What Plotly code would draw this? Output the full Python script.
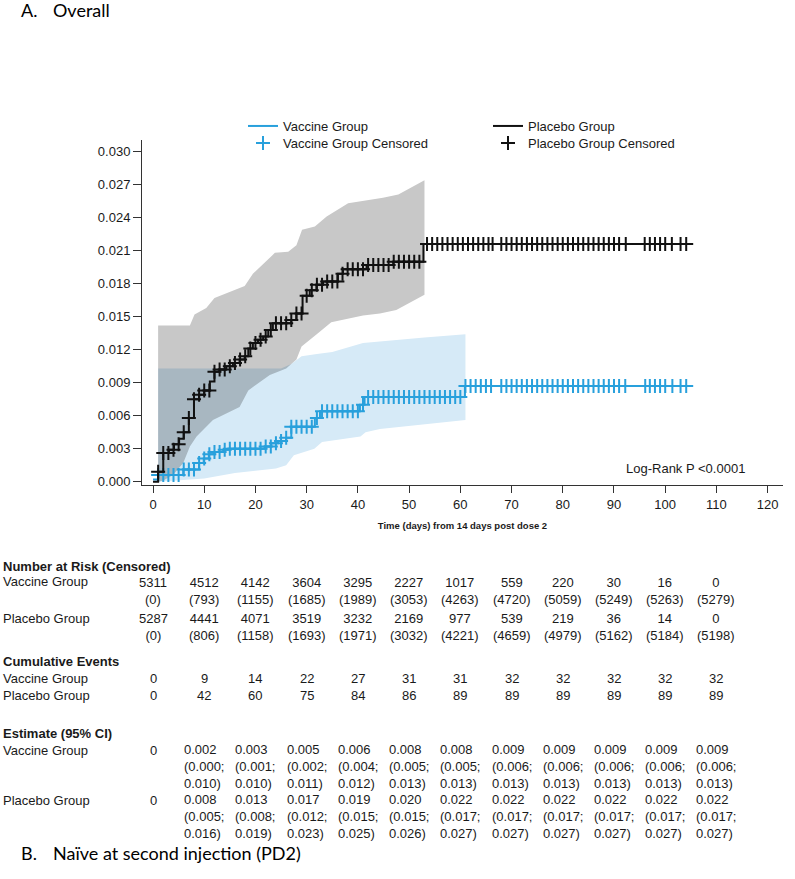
import plotly.graph_objects as go

# ---------------- data ----------------
# Kaplan-Meier cumulative incidence (step points: day, value)
plc_step_days = [0, 1, 2, 3.1, 4.1, 5.1, 6, 7, 8, 9, 10, 11.1, 12, 13, 14.3, 15.6, 16.9, 17.9,
                 18.6, 19.5, 20.5, 21.5, 22.5, 23.4, 27, 28, 29.2, 30.6, 31.9, 33.2, 36.1, 37.1,
                 41.7, 46.9, 52.8, 105.1]
plc_step_vals = [0.0, 0.0009, 0.0026, 0.0029, 0.0034, 0.0039, 0.0045, 0.0058, 0.0075, 0.0079,
                 0.0083, 0.0091, 0.0100, 0.0102, 0.0105, 0.0108, 0.0111, 0.0114, 0.0121, 0.0126,
                 0.0129, 0.0132, 0.0138, 0.0144, 0.0147, 0.0153, 0.0169, 0.0174, 0.0179, 0.0182,
                 0.0189, 0.0193, 0.0197, 0.0200, 0.0216, 0.0216]

vac_step_days = [0, 1, 5.9, 9, 9.9, 10.9, 12, 13.7, 14.6, 21.8, 23.1, 24.4, 26, 27, 31.6, 32.6,
                 40.4, 41.3, 60.9, 105.1]
vac_step_vals = [0.0002, 0.0006, 0.0011, 0.0017, 0.0021, 0.0025, 0.0027, 0.0029, 0.0030, 0.0032,
                 0.0035, 0.0037, 0.0040, 0.0050, 0.0058, 0.0064, 0.0070, 0.0077, 0.0087, 0.0087]

# censoring times (days)
plc_cens_days = [1, 2, 3, 4, 5, 6, 7, 8, 9, 10, 11, 12, 13, 14, 15, 16, 17, 18, 19, 20, 21, 22,
                 23, 24, 25, 26, 27, 28, 29, 30, 31, 32, 33, 34, 35, 36, 37, 38, 39, 40, 41, 42,
                 43, 44, 45, 46, 47, 48, 49, 50, 51, 52, 53.5, 54.5, 55.5, 56.5, 57.5, 58.5, 59.5,
                 60.5, 61.5, 62.5, 63.5, 64.5, 65.5, 66.3, 68, 69, 70, 71, 72, 73, 74, 75, 76, 77,
                 78, 79, 80, 81, 82, 83, 84, 85, 86, 87, 88, 89, 90, 91, 92.3, 96, 97, 98, 99,
                 100, 101.3, 103, 104.1]
vac_cens_days = [1, 2, 3, 4, 5, 6, 7, 8, 9, 10, 11, 12, 13, 14, 15, 16, 17, 18, 19, 20, 21, 22,
                 23, 24, 25, 26, 27, 28, 29, 30, 31, 32, 33, 34, 35, 36, 37, 38, 39, 40, 41, 42,
                 43, 44, 45, 46, 47, 48, 49, 50, 51, 52, 53, 54, 55, 56, 57, 58, 59, 60, 61, 62,
                 63, 64, 65, 66, 68, 69, 70, 71, 72, 73, 74, 75, 76, 77, 78, 79, 80, 81, 82, 83,
                 84, 85, 86, 87, 88, 89, 90, 91, 92.2, 96.1, 97, 98, 99, 100, 101.4, 103, 104.1]

# 95% CI bands
plc_up_days = [1, 7.2, 8.1, 10.4, 12, 17.9, 19.5, 23.8, 26.4, 28, 29.1, 31.6, 33.9, 38.1, 44.9, 47.9, 53]
plc_up_vals = [0.0142, 0.0142, 0.0152, 0.0158, 0.0167, 0.0178, 0.0189, 0.0208, 0.0209, 0.0215,
               0.0229, 0.0232, 0.0241, 0.0253, 0.0258, 0.0261, 0.0274]
plc_lo_days = [1, 2, 3.9, 5.9, 7.2, 8.5, 11.7, 16.9, 18.6, 22.8, 26, 28, 29, 32.2, 34.8, 41, 44.3, 47.5, 53]
plc_lo_vals = [0.0, 0.0001, 0.0006, 0.0017, 0.0032, 0.0041, 0.0056, 0.0068, 0.0083, 0.0097,
               0.0103, 0.0111, 0.0123, 0.0135, 0.0145, 0.0151, 0.0153, 0.0156, 0.0170]
vac_up_days = [1, 25, 27, 29, 32, 35, 41, 47.5, 53, 61]
vac_up_vals = [0.0103, 0.0103, 0.0107, 0.0114, 0.0116, 0.0118, 0.0126, 0.0129, 0.0131, 0.0134]
vac_lo_days = [1, 5, 10, 16, 20, 24, 26, 27.5, 31.5, 33, 40.5, 41.5, 44.3, 61]
vac_lo_vals = [0.0, 0.0001, 0.0003, 0.0008, 0.0010, 0.0012, 0.0015, 0.0024, 0.0030, 0.0036,
               0.0041, 0.0045, 0.0048, 0.0056]

# axis ticks
x_ticks = [0, 10, 20, 30, 40, 50, 60, 70, 80, 90, 100, 110, 120]
y_ticks = [0.000, 0.003, 0.006, 0.009, 0.012, 0.015, 0.018, 0.021, 0.024, 0.027, 0.030]

# table under the chart
table_days = [0, 10, 20, 30, 40, 50, 60, 70, 80, 90, 100, 110]
vac_risk = [5311, 4512, 4142, 3604, 3295, 2227, 1017, 559, 220, 30, 16, 0]
vac_cens = [0, 793, 1155, 1685, 1989, 3053, 4263, 4720, 5059, 5249, 5263, 5279]
plc_risk = [5287, 4441, 4071, 3519, 3232, 2169, 977, 539, 219, 36, 14, 0]
plc_cens = [0, 806, 1158, 1693, 1971, 3032, 4221, 4659, 4979, 5162, 5184, 5198]
vac_events = [0, 9, 14, 22, 27, 31, 31, 32, 32, 32, 32, 32]
plc_events = [0, 42, 60, 75, 84, 86, 89, 89, 89, 89, 89, 89]
vac_est = [0, 0.002, 0.003, 0.005, 0.006, 0.008, 0.008, 0.009, 0.009, 0.009, 0.009, 0.009]
vac_est_lo = [None, 0.000, 0.001, 0.002, 0.004, 0.005, 0.005, 0.006, 0.006, 0.006, 0.006, 0.006]
vac_est_hi = [None, 0.010, 0.010, 0.011, 0.012, 0.013, 0.013, 0.013, 0.013, 0.013, 0.013, 0.013]
plc_est = [0, 0.008, 0.013, 0.017, 0.019, 0.020, 0.022, 0.022, 0.022, 0.022, 0.022, 0.022]
plc_est_lo = [None, 0.005, 0.008, 0.012, 0.015, 0.015, 0.017, 0.017, 0.017, 0.017, 0.017, 0.017]
plc_est_hi = [None, 0.016, 0.019, 0.023, 0.025, 0.026, 0.027, 0.027, 0.027, 0.027, 0.027, 0.027]

# ---------------- layout helpers ----------------
FW, FH = 795, 879
L, R, T, B = 142, 783, 140, 485   # plot area in page pixels
FONT = "Liberation Sans, Arial, sans-serif"
BLUE = "rgb(40,160,220)"
BLACK = "#111111"
TXT = "#1a1a1a"


def ppy(p):
    return (B - p) / (B - T)


def ppx(p):
    return (p - L) / (R - L)


def step_value(days, vals, t):
    v = vals[0]
    for d, y in zip(days, vals):
        if d <= t:
            v = y
    return v


fig = go.Figure()

# CI bands
fig.add_trace(go.Scatter(
    x=vac_up_days + vac_lo_days[::-1], y=vac_up_vals + vac_lo_vals[::-1],
    fill="toself", fillcolor="rgb(214,234,247)", line=dict(width=0),
    mode="lines", showlegend=False, hoverinfo="skip"))
fig.add_trace(go.Scatter(
    x=plc_up_days + plc_lo_days[::-1], y=plc_up_vals + plc_lo_vals[::-1],
    fill="toself", fillcolor="rgba(5,5,5,0.22)", line=dict(width=0),
    mode="lines", showlegend=False, hoverinfo="skip"))

# step curves
fig.add_trace(go.Scatter(
    x=vac_step_days, y=vac_step_vals, mode="lines", line=dict(color=BLUE, width=2, shape="hv"),
    name="Vaccine Group", legend="legend"))
fig.add_trace(go.Scatter(
    x=vac_cens_days, y=[step_value(vac_step_days, vac_step_vals, t) for t in vac_cens_days],
    mode="markers", marker=dict(symbol="cross-thin", size=10, color=BLUE, line=dict(width=2, color=BLUE)),
    name="Vaccine Group Censored", legend="legend2"))
fig.add_trace(go.Scatter(
    x=plc_step_days, y=plc_step_vals, mode="lines", line=dict(color=BLACK, width=2, shape="hv"),
    name="Placebo Group", legend="legend3"))
fig.add_trace(go.Scatter(
    x=plc_cens_days, y=[step_value(plc_step_days, plc_step_vals, t) for t in plc_cens_days],
    mode="markers", marker=dict(symbol="cross-thin", size=10, color=BLACK, line=dict(width=2, color=BLACK)),
    name="Placebo Group Censored", legend="legend4"))

ann = []


def add_text(x, y, text, xref="x", xanchor="center", size=13, align="center", font=FONT, color=TXT):
    ann.append(dict(x=x, y=y, xref=xref, yref="paper", text=text, showarrow=False,
                    xanchor=xanchor, yanchor="middle", align=align,
                    font=dict(family=font, size=size, color=color)))


TFONT = "Lato, Carlito, sans-serif"
# titles
add_text(ppx(18.5), ppy(10), "A.", xref="paper", xanchor="left", size=18, font=TFONT, color="#000")
add_text(ppx(51), ppy(10), "Overall", xref="paper", xanchor="left", size=18, font=TFONT, color="#000")
add_text(ppx(18.5), ppy(853), "B.", xref="paper", xanchor="left", size=18, font=TFONT, color="#000")
add_text(ppx(51), ppy(853), "Naïve at second injection (PD2)", xref="paper", xanchor="left", size=18,
         font=TFONT, color="#000")

# log-rank text
add_text(ppx(624), ppy(468), "Log-Rank P <0.0001", xref="paper", xanchor="left", size=13)

# row labels
LX = ppx(1)
add_text(LX, ppy(566), "<b>Number at Risk (Censored)</b>", xref="paper", xanchor="left")
add_text(LX, ppy(581.7), "Vaccine Group", xref="paper", xanchor="left")
add_text(LX, ppy(618.3), "Placebo Group", xref="paper", xanchor="left")
add_text(LX, ppy(661), "<b>Cumulative Events</b>", xref="paper", xanchor="left")
add_text(LX, ppy(678.3), "Vaccine Group", xref="paper", xanchor="left")
add_text(LX, ppy(695), "Placebo Group", xref="paper", xanchor="left")
add_text(LX, ppy(733.3), "<b>Estimate (95% CI)</b>", xref="paper", xanchor="left")
add_text(LX, ppy(750), "Vaccine Group", xref="paper", xanchor="left")
add_text(LX, ppy(800), "Placebo Group", xref="paper", xanchor="left")

for i, d in enumerate(table_days):
    add_text(d, ppy(590.5), f"{vac_risk[i]}<br>({vac_cens[i]})")
    add_text(d, ppy(627.2), f"{plc_risk[i]}<br>({plc_cens[i]})")
    add_text(d, ppy(678.3), f"{vac_events[i]}")
    add_text(d, ppy(695), f"{plc_events[i]}")
    if vac_est_lo[i] is None:
        add_text(d, ppy(750), f"{vac_est[i]}")
        add_text(d, ppy(800), f"{plc_est[i]}")
    else:
        add_text(d, ppy(766.5), f"{vac_est[i]:.3f}<br>({vac_est_lo[i]:.3f};<br>{vac_est_hi[i]:.3f})", align="left")
        add_text(d, ppy(816.8), f"{plc_est[i]:.3f}<br>({plc_est_lo[i]:.3f};<br>{plc_est_hi[i]:.3f})", align="left")


def leg(xp, center_py):
    return dict(x=ppx(xp), y=ppy(center_py - 15), xanchor="left", yanchor="top", xref="paper", yref="paper",
                bgcolor="rgba(0,0,0,0)", font=dict(size=13, color=TXT, family=FONT), itemwidth=30)


fig.update_layout(
    width=FW, height=FH,
    margin=dict(l=L, r=FW - R, t=T, b=FH - B, pad=0),
    paper_bgcolor="white", plot_bgcolor="white",
    font=dict(family=FONT, size=13, color=TXT),
    annotations=ann,
    legend=leg(243, 126),
    legend2=leg(243, 143),
    legend3=leg(488, 126),
    legend4=leg(488, 143),
    xaxis=dict(range=[-2.15, 123], tickvals=x_ticks, ticks="outside", ticklen=7, tickwidth=1,
               tickcolor="#333", showline=True, linecolor="#333", linewidth=1, showgrid=False,
               zeroline=False, tickfont=dict(size=13, color=TXT),
               title=dict(text="<b>Time (days) from 14 days post dose 2</b>", font=dict(size=9.5, color=TXT),
                          standoff=11)),
    yaxis=dict(range=[-0.0003, 0.03106], tickvals=y_ticks, tickformat=".3f", ticks="outside",
               ticklen=8, tickwidth=1, tickcolor="#333", showline=True, linecolor="#333", linewidth=1,
               showgrid=False, zeroline=False, tickfont=dict(size=13, color=TXT)),
)

# remove the default page margin so the figure starts at the window's top-left corner
fig.write_html("out.html", config={"displayModeBar": False},
               post_script="document.body.style.margin='0px';")
